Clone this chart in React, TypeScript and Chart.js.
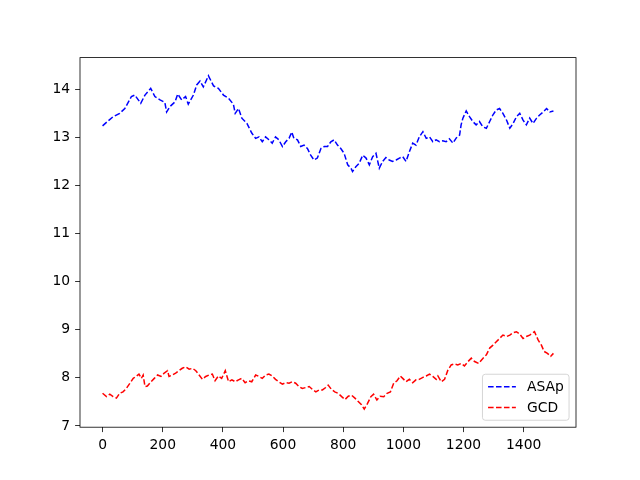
import React, { useEffect, useRef } from "react";
import { Chart, registerables } from "chart.js";

Chart.register(...registerables);

// ---- data ----
const asapX = [0,18,35,57,74,96,107,127,141,160,174,191,207,213,224,241,250,263,276,285,302,313,324,335,352,369,385,402,419,435,441,452,463,480,496,
  509,520,531,542,553,564,575,586,598,609,620,629,636,648,659,670,681,692,703,714,726,737,748,759,770,781,792,803,815,826,831,842,853,865,876,887,898,909,920,931,942,953,964,976,987,998,
  1009,1020,1031,1042,1053,1065,1076,1087,1098,1109,1120,1131,1142,1153,1165,1176,1187,1192,1198,1209,1220,1231,1242,1253,1264,1276,1287,1298,1309,1320,1331,1343,1354,1365,1376,1387,1398,1409,1420,1431,1443,1454,1465,1476,1487,1499];
const asapY = [13.24,13.34,13.43,13.50,13.60,13.85,13.88,13.71,13.88,14.02,13.85,13.78,13.73,13.53,13.64,13.74,13.90,13.78,13.85,13.69,13.88,14.09,14.17,14.05,14.28,14.07,14.02,13.88,13.81,13.69,13.50,13.60,13.40,13.29,13.09,
  12.98,13.01,12.91,13.01,12.95,12.88,13.01,12.95,12.81,12.91,12.98,13.11,12.98,12.95,12.81,12.84,12.77,12.63,12.53,12.57,12.77,12.81,12.81,12.91,12.95,12.84,12.77,12.67,12.43,12.36,12.29,12.39,12.46,12.63,12.57,12.43,12.60,12.67,12.36,12.50,12.58,12.53,12.50,12.53,12.57,12.60,
  12.50,12.70,12.88,12.84,13.01,13.12,12.98,13.01,12.91,12.95,12.91,12.93,12.91,12.97,12.88,12.99,13.05,13.26,13.40,13.55,13.43,13.33,13.26,13.33,13.22,13.19,13.33,13.47,13.57,13.60,13.50,13.36,13.19,13.29,13.43,13.50,13.36,13.26,13.40,13.29,13.40,13.47,13.53,13.60,13.53,13.55];

const gcdX = [0,13,24,35,46,57,68,79,91,102,113,121,129,135,141,149,161,172,183,194,205,216,221,232,243,254,265,276,288,299,310,321,332,343,354,365,374,385,396,408,419,430,441,452,463,474,485,496,
  509,520,531,542,553,564,575,586,598,609,620,631,642,653,664,676,687,698,709,720,731,742,750,761,772,783,795,806,817,828,839,850,861,870,881,892,901,912,923,935,946,957,968,979,990,
  998,1009,1020,1031,1042,1053,1065,1076,1087,1098,1109,1115,1126,1137,1148,1159,1170,1181,1192,1203,1215,1226,1237,1250,1265,1276,1287,1298,1309,1320,1331,1343,1354,1365,1376,1387,1398,1409,1420,1431,1436,1448,1459,1468,1479,1490,1499];
const gcdY = [7.68,7.61,7.66,7.61,7.58,7.68,7.71,7.78,7.89,7.99,8.04,8.08,7.99,8.06,7.82,7.83,7.92,7.99,8.06,8.03,8.10,8.15,8.03,8.06,8.10,8.15,8.20,8.23,8.18,8.20,8.15,8.06,7.97,8.03,8.06,8.08,7.94,8.04,7.99,8.15,7.92,7.96,7.92,7.96,7.99,7.90,7.94,7.92,
  8.06,8.03,7.99,8.06,8.08,8.04,7.97,7.92,7.87,7.90,7.89,7.92,7.89,7.82,7.78,7.80,7.82,7.76,7.71,7.75,7.75,7.80,7.85,7.76,7.71,7.68,7.61,7.55,7.62,7.64,7.58,7.51,7.44,7.35,7.47,7.61,7.66,7.54,7.62,7.61,7.68,7.71,7.89,7.94,8.04,
  7.99,7.92,7.97,7.90,7.96,7.97,8.01,8.04,8.08,8.03,7.97,8.04,7.92,7.97,8.16,8.27,8.29,8.27,8.30,8.25,8.34,8.41,8.34,8.30,8.41,8.48,8.62,8.68,8.75,8.82,8.89,8.86,8.89,8.94,8.96,8.91,8.82,8.86,8.89,8.94,8.96,8.79,8.68,8.55,8.51,8.45,8.51];

const seriesLabels = ["ASAp", "GCD"];
const seriesColors = ["#0000ff", "#ff0000"];
const xTickValues = [0, 200, 400, 600, 800, 1000, 1200, 1400];
const xTickLabels = ["0", "200", "400", "600", "800", "1000", "1200", "1400"];
const yTickValues = [7, 8, 9, 10, 11, 12, 13, 14];
const yTickLabels = ["7", "8", "9", "10", "11", "12", "13", "14"];

const FS = 13.89;
const FONT = "DejaVu Sans";
const DASH = [5.55, 2.4];

const framePlugin = {
  id: "mplFrame",
  afterDatasetsDraw(chart: any) {
    const { ctx, chartArea: a } = chart;
    ctx.save();
    ctx.strokeStyle = "#000";
    ctx.lineWidth = 0.8;
    ctx.setLineDash([]);
    ctx.strokeRect(a.left, a.top, a.right - a.left, a.bottom - a.top);
    ctx.restore();
  },
  afterDraw(chart: any) {
    const { ctx, chartArea: a } = chart;
    const pad = 6.94;
    const w = 86.6;
    const h = 46;
    const x0 = a.right - pad - w;
    const y0 = a.bottom - pad - h;
    const r = 2.8;
    ctx.save();
    ctx.beginPath();
    ctx.moveTo(x0 + r, y0);
    ctx.lineTo(x0 + w - r, y0);
    ctx.arcTo(x0 + w, y0, x0 + w, y0 + r, r);
    ctx.lineTo(x0 + w, y0 + h - r);
    ctx.arcTo(x0 + w, y0 + h, x0 + w - r, y0 + h, r);
    ctx.lineTo(x0 + r, y0 + h);
    ctx.arcTo(x0, y0 + h, x0, y0 + h - r, r);
    ctx.lineTo(x0, y0 + r);
    ctx.arcTo(x0, y0, x0 + r, y0, r);
    ctx.closePath();
    ctx.fillStyle = "rgba(255,255,255,0.8)";
    ctx.fill();
    ctx.strokeStyle = "rgba(204,204,204,0.8)";
    ctx.lineWidth = 1;
    ctx.stroke();
    const rows = [y0 + 12.6, y0 + 33.2];
    chart.data.datasets.forEach((ds: any, i: number) => {
      const cy = rows[i];
      ctx.beginPath();
      ctx.setLineDash(DASH);
      ctx.strokeStyle = ds.borderColor;
      ctx.lineWidth = 1.5;
      ctx.moveTo(x0 + 5.6, cy);
      ctx.lineTo(x0 + 33.4, cy);
      ctx.stroke();
      ctx.setLineDash([]);
      ctx.fillStyle = "#000";
      ctx.font = `${FS}px "${FONT}"`;
      ctx.textBaseline = "middle";
      ctx.textAlign = "left";
      ctx.fillText(ds.label, x0 + 44.5, cy + 0.5);
    });
    ctx.restore();
  },
};

export default function App() {
  const ref = useRef<HTMLCanvasElement | null>(null);
  useEffect(() => {
    if (!ref.current) return;
    const mk = (xs: number[], ys: number[]) => xs.map((x, i) => ({ x, y: ys[i] }));
    const chart = new Chart(ref.current, {
      type: "line",
      data: {
        datasets: [
          {
            label: seriesLabels[0],
            data: mk(asapX, asapY),
            borderColor: seriesColors[0],
            backgroundColor: seriesColors[0],
            borderWidth: 1.5,
            borderDash: DASH,
            pointRadius: 0,
            tension: 0,
            fill: false,
          },
          {
            label: seriesLabels[1],
            data: mk(gcdX, gcdY),
            borderColor: seriesColors[1],
            backgroundColor: seriesColors[1],
            borderWidth: 1.5,
            borderDash: DASH,
            pointRadius: 0,
            tension: 0,
            fill: false,
          },
        ],
      },
      options: {
        animation: false,
        responsive: false,
        devicePixelRatio: 1,
        layout: { padding: { top: 57.6, right: 64, left: 0, bottom: 0 } },
        plugins: { legend: { display: false }, tooltip: { enabled: false } },
        scales: {
          x: {
            type: "linear",
            min: -75,
            max: 1574,
            afterBuildTicks: (s: any) => {
              s.ticks = xTickValues.map((v) => ({ value: v }));
            },
            afterFit: (s: any) => {
              s.height = 52.8;
            },
            grid: {
              display: true,
              drawOnChartArea: false,
              drawTicks: true,
              tickLength: 4.9,
              tickColor: "#000",
              tickWidth: 0.8,
              lineWidth: 0.8,
            },
            border: { display: false },
            ticks: {
              padding: 4.9,
              color: "#000",
              maxRotation: 0,
              autoSkip: false,
              font: { family: FONT, size: FS },
              callback: (_v: any, i: number) => xTickLabels[i],
            },
          },
          y: {
            type: "linear",
            min: 6.975,
            max: 14.659,
            afterBuildTicks: (s: any) => {
              s.ticks = yTickValues.map((v) => ({ value: v }));
            },
            afterFit: (s: any) => {
              s.width = 80;
            },
            grid: {
              display: true,
              drawOnChartArea: false,
              drawTicks: true,
              tickLength: 4.9,
              tickColor: "#000",
              tickWidth: 0.8,
              lineWidth: 0.8,
            },
            border: { display: false },
            ticks: {
              padding: 4.9,
              color: "#000",
              autoSkip: false,
              font: { family: FONT, size: FS },
              callback: (_v: any, i: number) => yTickLabels[i],
            },
          },
        },
      },
      plugins: [framePlugin],
    } as any);
    return () => chart.destroy();
  }, []);
  return (
    <div style={{ position: "fixed", left: 0, top: 0, width: 640, height: 480, background: "#fff" }}>
      <canvas ref={ref} width={640} height={480} style={{ display: "block", width: 640, height: 480 }} />
    </div>
  );
}
